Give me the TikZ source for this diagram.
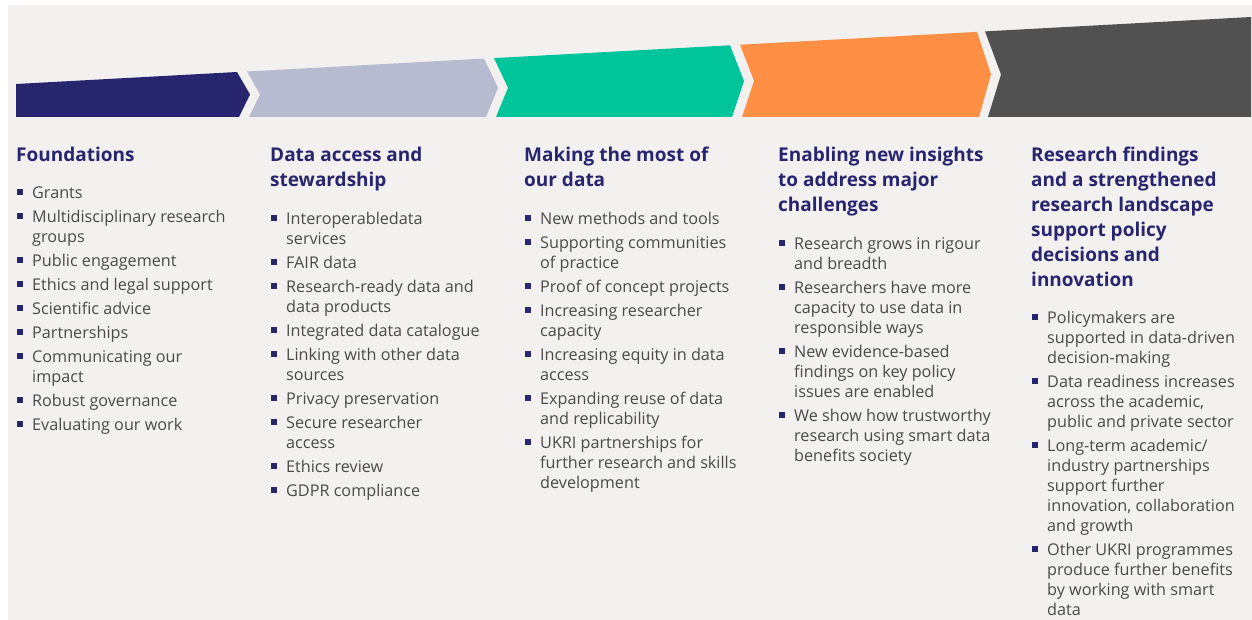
\documentclass[tikz,border=0pt]{standalone}
\usepackage{fontspec}
\setmainfont{Open Sans}
\usetikzlibrary{positioning}

\definecolor{ukrinavy}{HTML}{28256F}
\definecolor{ukrilav}{HTML}{B7BBD0}
\definecolor{ukrigreen}{HTML}{00C49A}
\definecolor{ukriorange}{HTML}{FF8F45}
\definecolor{ukridark}{HTML}{515151}
\definecolor{ukrigrey}{HTML}{4A4A4A}
\definecolor{ukribg}{HTML}{F2F1F0}

\newcommand{\bul}{\llap{\textcolor{ukrinavy}{\rule[3.5pt]{6pt}{6pt}}\hspace{9pt}}}

\tikzset{
  head/.style={anchor=north west, inner sep=0pt, align=left, text=ukrinavy,
    font=\fontsize{19}{25}\selectfont\bfseries},
  blist/.style={anchor=north west, inner sep=0pt, align=left, text=ukrigrey,
    font=\fontsize{16.2}{20}\selectfont}
}

\begin{document}
\begin{tikzpicture}[x=1pt,y=-1pt]
\useasboundingbox (0,0) rectangle (1252,620);
\fill [white] (0,0) rectangle (1252,620);
\fill [ukribg] (8,5) rectangle (1252,620);
% the five chevrons, rising to the right
\fill [ukrinavy] (16,84) -- (237,72) -- (250,94.5) -- (239,117) -- (16,117) -- cycle;
\fill [ukrilav] (247,71.5) -- (484,58.6) -- (498,87.8) -- (486,117) -- (249,117) -- (260,94.5) -- cycle;
\fill [ukrigreen] (494,58.1) -- (730,45.3) -- (744,81) -- (732,117) -- (496,117) -- (508,87.8) -- cycle;
\fill [ukriorange] (740,44.7) -- (977,31.9) -- (991,74.4) -- (979,117) -- (742,117) -- (754,81) -- cycle;
\fill [ukridark] (985,31.4) -- (1251,17) -- (1251,117) -- (988,117) -- (1001,74.4) -- cycle;

\node [head] (h1) at (16,146.5) {Foundations};
\node [head] (h2) at (270,146.5) {Data access and\\stewardship};
\node [head] (h3) at (524,146.5) {Making the most of\\our data};
\node [head] (h4) at (778,146.5) {Enabling new insights\\to address major\\challenges};
\node [head] (h5) at (1031,146.5) {Research findings\\and a strengthened\\research landscape\\support policy\\decisions and\\innovation};

\node [blist] (l1) at (32,186.5) {\bul Grants\\[4pt]
  \bul Multidisciplinary research\\groups\\[4pt]
  \bul Public engagement\\[4pt]
  \bul Ethics and legal support\\[4pt]
  \bul Scientific advice\\[4pt]
  \bul Partnerships\\[4pt]
  \bul Communicating our\\impact\\[4pt]
  \bul Robust governance\\[4pt]
  \bul Evaluating our work};
\node [blist] (l2) at (286,211.5) {\bul Interoperabledata\\services\\[4pt]
  \bul FAIR data\\[4pt]
  \bul Research-ready data and\\data products\\[4pt]
  \bul Integrated data catalogue\\[4pt]
  \bul Linking with other data\\sources\\[4pt]
  \bul Privacy preservation\\[4pt]
  \bul Secure researcher\\access\\[4pt]
  \bul Ethics review\\[4pt]
  \bul GDPR compliance};
\node [blist] (l3) at (540,211.5) {\bul New methods and tools\\[4pt]
  \bul Supporting communities\\of practice\\[4pt]
  \bul Proof of concept projects\\[4pt]
  \bul Increasing researcher\\capacity\\[4pt]
  \bul Increasing equity in data\\access\\[4pt]
  \bul Expanding reuse of data\\and replicability\\[4pt]
  \bul UKRI partnerships for\\further research and skills\\development};
\node [blist] (l4) at (794,236.5) {\bul Research grows in rigour\\and breadth\\[4pt]
  \bul Researchers have more\\capacity to use data in\\responsible ways\\[4pt]
  \bul New evidence-based\\findings on key policy\\issues are enabled\\[4pt]
  \bul We show how trustworthy\\research using smart data\\benefits society};
\node [blist] (l5) at (1047,310.5) {\bul Policymakers are\\supported in data-driven\\decision-making\\[4pt]
  \bul Data readiness increases\\across the academic,\\public and private sector\\[4pt]
  \bul Long-term academic/\\industry partnerships\\support further\\innovation, collaboration\\and growth\\[4pt]
  \bul Other UKRI programmes\\produce further benefits\\by working with smart\\data};
\end{tikzpicture}
\end{document}
